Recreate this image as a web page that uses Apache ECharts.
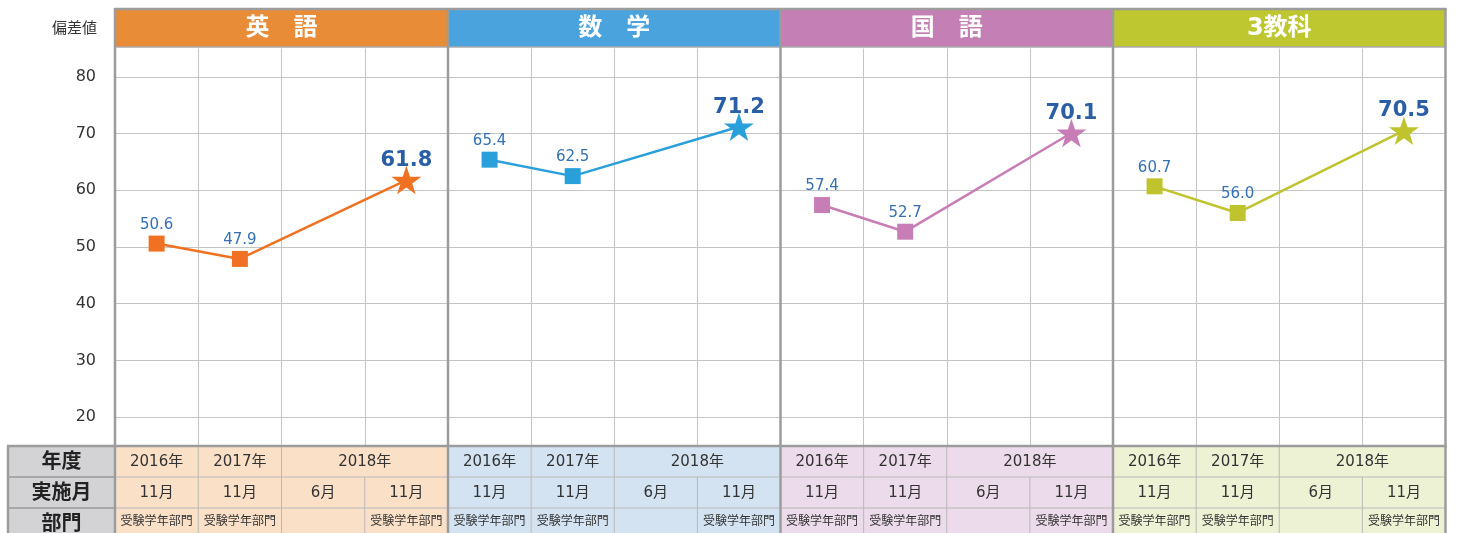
<!DOCTYPE html>
<html><head><meta charset="utf-8">
<script src="https://cdn.jsdelivr.net/npm/echarts@6/dist/echarts.min.js"></script>
<style>html,body{margin:0;padding:0;background:#fff}#c{width:1459px;height:533px}</style>
</head><body><div id="c"></div>
<script>
// ---- data ----
const subjects = ['英　語', '数　学', '国　語', '3教科'];
const categories = ['2016年11月', '2017年11月', '2018年6月', '2018年11月'];
const engScores = [50.6, 47.9, null, 61.8];
const mathScores = [65.4, 62.5, null, 71.2];
const japScores = [57.4, 52.7, null, 70.1];
const totalScores = [60.7, 56.0, null, 70.5];
const yearLabels = ['2016年', '2017年', '2018年'];
const yearSpans = [1, 1, 2];
const monthLabels = ['11月', '11月', '6月', '11月'];
const deptLabels = ['受験学年部門', '受験学年部門', '', '受験学年部門'];
const rowHeaders = ['年度', '実施月', '部門'];
const yAxisTitle = '偏差値';

// ---- styles ----
const FONT = "'DejaVu Sans','Noto Sans CJK JP',sans-serif";
const headerColors = ['#e98c38', '#4aa3dc', '#c47fb5', '#bec630'];
const lineColors = ['#f07122', '#2aa0da', '#c77db5', '#bfc42e'];
const cellColors = ['#fbe0c8', '#d3e3f2', '#ecdbea', '#eef2d5'];
const BORDER = '#9c9c9c', THIN = '#c4c4c4', TABLE_THIN = '#b9b9b9';
const PX = [115, 448, 780.5, 1113, 1445.5];
const GRID_TOP = 48.5, GRID_H = 397;
const ROW_Y = [446, 477, 508, 539];
const STAR = 'path://M50,0 L61.8,35.3 L98.9,35.3 L69,57.3 L80.3,92.7 L50,70.7 L19.7,92.7 L31,57.3 L1.1,35.3 L38.2,35.3 Z';

const allScores = [engScores, mathScores, japScores, totalScores];

function buildData(arr) {
  return arr.map((v, i) => {
    if (v == null) return null;
    const last = i === arr.length - 1;
    return {
      value: v,
      symbol: last ? STAR : 'rect',
      symbolSize: last ? 30 : 16,
      label: last
        ? { fontSize: 21, fontWeight: 'bold', color: '#2a5ea5', distance: -5 }
        : { fontSize: 15, color: '#3470b5', distance: 3 }
    };
  });
}

const grids = [], xAxes = [], yAxes = [], series = [];
for (let i = 0; i < 4; i++) {
  grids.push({ left: PX[i], top: GRID_TOP, width: PX[i + 1] - PX[i], height: GRID_H, containLabel: false });
  xAxes.push({
    type: 'category', gridIndex: i, data: categories, boundaryGap: true,
    axisLine: { show: false }, axisTick: { show: false }, axisLabel: { show: false },
    splitLine: { show: true, interval: 0, lineStyle: { color: THIN, width: 1 } }
  });
  yAxes.push({
    type: 'value', gridIndex: i, min: 15, max: 85, interval: 5,
    axisLine: { show: false }, axisTick: { show: false },
    axisLabel: {
      show: i === 0, margin: 19, fontSize: 16, color: '#333', fontFamily: FONT,
      formatter: v => (v % 10 === 0 && v >= 20 && v <= 80) ? String(v) : ''
    },
    splitLine: { show: true, lineStyle: { color: ['rgba(0,0,0,0)', THIN], width: 1 } }
  });
  series.push({
    type: 'line', xAxisIndex: i, yAxisIndex: i, data: buildData(allScores[i]),
    connectNulls: true, symbolKeepAspect: true,
    lineStyle: { color: lineColors[i], width: 2.5 },
    itemStyle: { color: lineColors[i] },
    label: { show: true, position: 'top', fontFamily: FONT, formatter: p => p.value.toFixed(1) },
    emphasis: { disabled: true }, animation: false, z: 5
  });
}

// ---- graphics (header band and table) ----
const g = [];
function line(x1, y1, x2, y2, stroke, w, z) {
  g.push({ type: 'line', shape: { x1, y1, x2, y2 }, style: { stroke, lineWidth: w }, z: z || 100, silent: true });
}
function rect(x, y, w, h, fill, z) {
  g.push({ type: 'rect', shape: { x, y, width: w, height: h }, style: { fill }, z: z || 10, silent: true });
}
function text(x, y, t, font, fill) {
  g.push({ type: 'text', x, y, style: { text: t, font, fill, align: 'center', verticalAlign: 'middle' }, z: 120, silent: true });
}

g.push({ type: 'text', x: 97, y: 29, style: { text: yAxisTitle, font: '15px ' + FONT, fill: '#333', align: 'right', verticalAlign: 'middle' }, z: 120 });

for (let i = 0; i < 4; i++) {
  const L = PX[i], R = PX[i + 1], W = R - L, cw = W / 4;
  rect(L, 9, W, 38, headerColors[i]);
  text(L + W / 2, 28.5, subjects[i], 'bold 24px ' + FONT, '#fff');
  rect(L, ROW_Y[0], W, ROW_Y[3] - ROW_Y[0], cellColors[i]);
  // year row
  let c = 0;
  yearLabels.forEach((t, k) => {
    const span = yearSpans[k];
    text(L + cw * (c + span / 2), (ROW_Y[0] + ROW_Y[1]) / 2 + 1, t, '15px ' + FONT, '#333');
    c += span;
    if (c < 4) line(L + cw * c, ROW_Y[0], L + cw * c, ROW_Y[1], TABLE_THIN, 1, 90);
  });
  for (let k = 0; k < 4; k++) {
    text(L + cw * (k + 0.5), (ROW_Y[1] + ROW_Y[2]) / 2 + 1, monthLabels[k], '15px ' + FONT, '#333');
    if (deptLabels[k]) text(L + cw * (k + 0.5), (ROW_Y[2] + ROW_Y[3]) / 2 - 2, deptLabels[k], '12px ' + FONT, '#333');
    if (k > 0) line(L + cw * k, ROW_Y[1], L + cw * k, ROW_Y[3], TABLE_THIN, 1, 90);
  }
}
// row header column
rect(8, ROW_Y[0], PX[0] - 8, ROW_Y[3] - ROW_Y[0], '#d3d3d5');
rowHeaders.forEach((t, k) => text((8 + PX[0]) / 2, (ROW_Y[k] + ROW_Y[k + 1]) / 2 + 1, t, 'bold 20px ' + FONT, '#222'));
line(8, ROW_Y[1], PX[4], ROW_Y[1], TABLE_THIN, 1, 90);
line(8, ROW_Y[2], PX[4], ROW_Y[2], TABLE_THIN, 1, 90);
line(8, ROW_Y[1], PX[0], ROW_Y[1], BORDER, 1.5, 95);
line(8, ROW_Y[2], PX[0], ROW_Y[2], BORDER, 1.5, 95);
// borders
line(PX[0] - 1, 9, PX[4] + 1, 9, BORDER, 2.5);
line(PX[0], 47, PX[4], 47, '#aaaaaa', 1.5);
line(7, ROW_Y[0], PX[4] + 1, ROW_Y[0], BORDER, 2.5);
line(8, ROW_Y[0], 8, 540, BORDER, 2.5);
PX.forEach(x => line(x, 8, x, 540, BORDER, 2.5));

const chart = echarts.init(document.getElementById('c'), null, { renderer: 'canvas' });
chart.setOption({
  animation: false,
  backgroundColor: '#fff',
  textStyle: { fontFamily: FONT },
  grid: grids, xAxis: xAxes, yAxis: yAxes, series: series,
  graphic: { elements: g }
});
</script></body></html>
